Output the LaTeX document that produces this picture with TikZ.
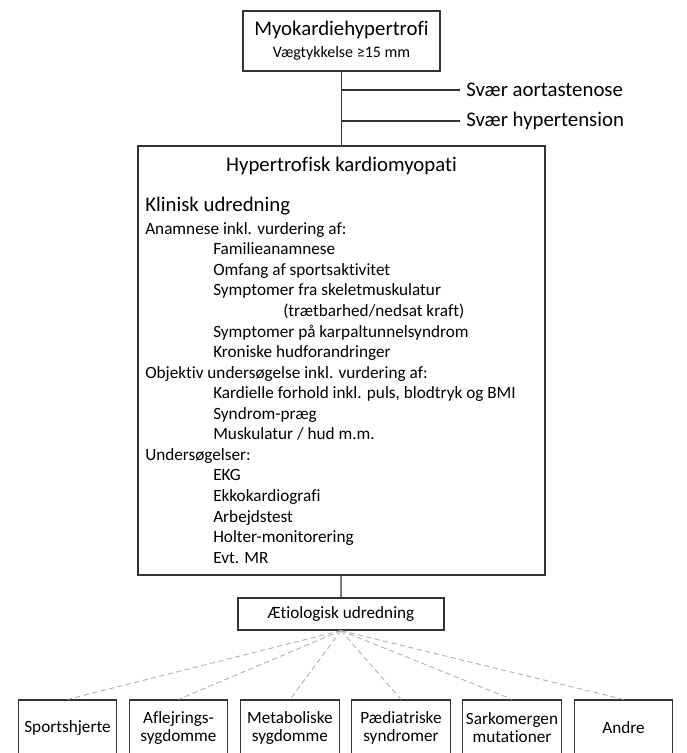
\documentclass[tikz,border=0pt]{standalone}
\usepackage{fontspec}
\setmainfont{Carlito}[Ligatures=NoCommon]
\newcommand\itemind{\hspace*{51pt}}
\begin{document}
\begin{tikzpicture}[x=0.75pt,y=-0.75pt,
  box/.style={draw=black!80,line width=0.9pt,inner sep=2pt,align=center},
  cause/.style={box,minimum width=74pt,minimum height=42pt,
    font=\fontsize{12.9}{13.5}\selectfont},
  branch/.style={dash pattern=on 4pt off 2.5pt,black!30,line width=0.7pt},
  txt/.style={inner sep=0pt,align=left,font=\fontsize{12.9}{15.42}\selectfont},
  big/.style={inner sep=0pt,font=\fontsize{15.6}{18}\selectfont}]
        \useasboundingbox (0,0) rectangle (686,753);
        \node [box,minimum width=147.75pt,minimum height=45pt,
          font=\fontsize{15.6}{16.5}\selectfont] (myo) at (341.5,41)
          {Myokardiehypertrofi\\\fontsize{12}{16.5}\selectfont Vægtykkelse ≥15 mm};
        \node [box,minimum width=305.25pt,minimum height=321.75pt] (hcm) at (341.5,360.5) {};
        \node [box,minimum width=154.5pt,minimum height=24pt,
          font=\fontsize{12.9}{15}\selectfont] (aet) at (341,614) {Ætiologisk udredning};
        \node [big,anchor=west,inner xsep=4.5pt] (aorta) at (460,90) {Svær aortastenose};
        \node [big,anchor=west,inner xsep=4.5pt] (hyper) at (460,121) {Svær hypertension};
        \node [big] (title) at (341.5,166) {Hypertrofisk kardiomyopati};
        \node [big,anchor=west] (klinisk) at (145,206) {Klinisk udredning};
        \node [txt,anchor=north west] (body) at (145,222) {%
          Anamnese inkl. vurdering af:\\
          \itemind Familieanamnese\\
          \itemind Omfang af sportsaktivitet\\
          \itemind Symptomer fra skeletmuskulatur\\
          \hspace*{103.5pt}(trætbarhed/nedsat kraft)\\
          \itemind Symptomer på karpaltunnelsyndrom\\
          \itemind Kroniske hudforandringer\\
          Objektiv undersøgelse inkl. vurdering af:\\
          \itemind Kardielle forhold inkl. puls, blodtryk og BMI\\
          \itemind Syndrom-præg\\
          \itemind Muskulatur / hud m.m.\\
          Undersøgelser:\\
          \itemind EKG\\
          \itemind Ekkokardiografi\\
          \itemind Arbejdstest\\
          \itemind Holter-monitorering\\
          \itemind Evt. MR};
        \node [cause] (sport) at (67.5,728) {Sportshjerte};
        \node [cause] (aflej) at (178.5,728) {Aflejrings-\\sygdomme};
        \node [cause] (metab) at (290,728) {Metaboliske\\sygdomme};
        \node [cause] (paed) at (401,728) {Pædiatriske\\syndromer};
        \node [cause] (sarko) at (512,728) {Sarkomergen\\mutationer};
        \node [cause] (andre) at (623.5,728) {Andre};
        \draw [black!80,line width=0.9pt] (myo) -- (hcm);
        \draw [black!80,line width=0.9pt] (aorta.west -| myo.south) -- (aorta.west);
        \draw [black!80,line width=0.9pt] (hyper.west -| myo.south) -- (hyper.west);
        \draw [black!80,line width=0.9pt] (hcm) -- (aet);
        \draw [branch] (aet.south) -- (sport.north);
        \draw [branch] (aet.south) -- (aflej.north);
        \draw [branch] (aet.south) -- (metab.north);
        \draw [branch] (aet.south) -- (paed.north);
        \draw [branch] (aet.south) -- (sarko.north);
        \draw [branch] (aet.south) -- (andre.north);
    \end{tikzpicture}
\end{document}
